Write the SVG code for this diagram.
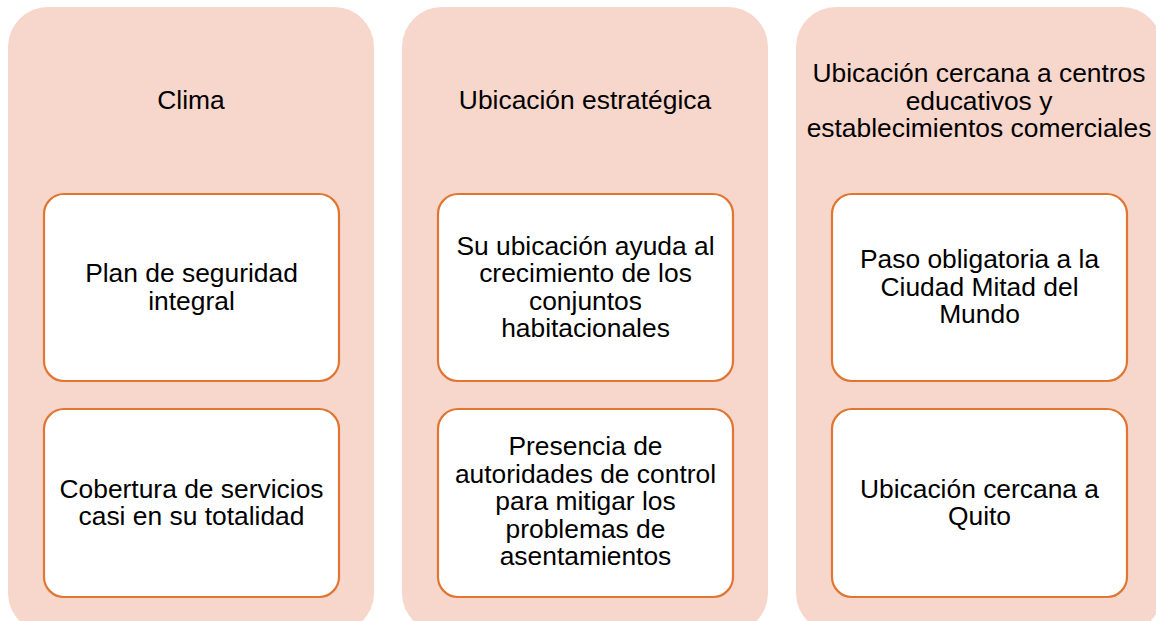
<svg xmlns="http://www.w3.org/2000/svg" width="1156" height="621" viewBox="0 0 1156 621">
<style>
.outer{fill:#F7D6CC;stroke:none}
.inner{fill:#FFFFFF;stroke:#E07632;stroke-width:2.2}
text{font-family:"Liberation Sans",Arial,sans-serif;font-size:26.4px;fill:#000;text-anchor:middle}
</style>
<rect width="1156" height="621" fill="#FFFFFF"/>
<g id="col1">
<rect class="outer" x="8" y="7" width="366" height="626" rx="40" ry="40"/>
<text x="191" y="109">Clima</text>
</g>
<g id="col2">
<rect class="outer" x="402" y="7" width="366" height="626" rx="40" ry="40"/>
<text x="585" y="109">Ubicación estratégica</text>
</g>
<g id="col3">
<rect class="outer" x="796" y="7" width="366" height="626" rx="40" ry="40"/>
<text x="979" y="82">Ubicación cercana a centros</text>
<text x="979" y="109.5">educativos y</text>
<text x="979" y="137">establecimientos comerciales</text>
</g>
<g id="n1a">
<rect class="inner" x="44" y="194" width="295" height="187" rx="20" ry="20"/>
<text x="191.5" y="282">Plan de seguridad</text>
<text x="191.5" y="309.5">integral</text>
</g>
<g id="n1b">
<rect class="inner" x="44" y="409" width="295" height="188" rx="20" ry="20"/>
<text x="191.5" y="497.5">Cobertura de servicios</text>
<text x="191.5" y="525">casi en su totalidad</text>
</g>
<g id="n2a">
<rect class="inner" x="438" y="194" width="295" height="187" rx="20" ry="20"/>
<text x="585.5" y="254.5">Su ubicación ayuda al</text>
<text x="585.5" y="282">crecimiento de los</text>
<text x="585.5" y="309.5">conjuntos</text>
<text x="585.5" y="337">habitacionales</text>
</g>
<g id="n2b">
<rect class="inner" x="438" y="409" width="295" height="188" rx="20" ry="20"/>
<text x="585.5" y="455">Presencia de</text>
<text x="585.5" y="482.5">autoridades de control</text>
<text x="585.5" y="510">para mitigar los</text>
<text x="585.5" y="537.5">problemas de</text>
<text x="585.5" y="565">asentamientos</text>
</g>
<g id="n3a">
<rect class="inner" x="832" y="194" width="295" height="187" rx="20" ry="20"/>
<text x="979.5" y="268">Paso obligatoria a la</text>
<text x="979.5" y="295.5">Ciudad Mitad del</text>
<text x="979.5" y="323">Mundo</text>
</g>
<g id="n3b">
<rect class="inner" x="832" y="409" width="295" height="188" rx="20" ry="20"/>
<text x="979.5" y="497.5">Ubicación cercana a</text>
<text x="979.5" y="525">Quito</text>
</g>
<g id="connectors"/>
</svg>
